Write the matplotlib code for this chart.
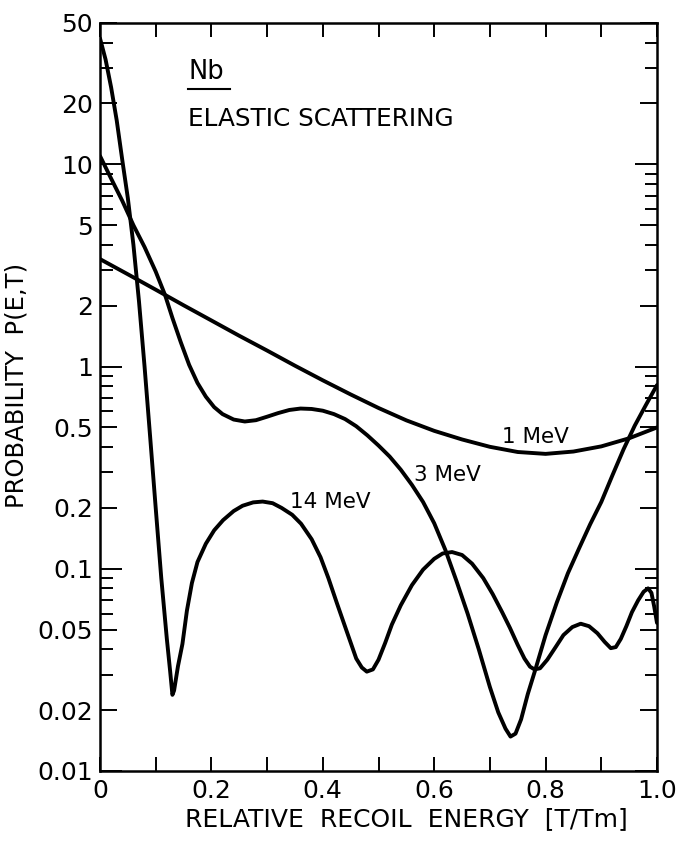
import matplotlib
matplotlib.use("Agg")
import matplotlib.pyplot as plt

# ---------------- data ----------------
x_1mev = [0.00, 0.05, 0.10, 0.15, 0.20, 0.25, 0.30, 0.35, 0.40, 0.45,
          0.50, 0.55, 0.60, 0.65, 0.70, 0.75, 0.80, 0.85, 0.90, 0.95, 1.00]
y_1mev = [3.40, 2.86, 2.40, 2.01, 1.69, 1.42, 1.20, 1.01, 0.855, 0.728,
          0.624, 0.542, 0.481, 0.436, 0.401, 0.378, 0.370, 0.380, 0.403, 0.442, 0.500]

x_3mev = [0.000, 0.020, 0.040, 0.060, 0.080, 0.100, 0.117, 0.130, 0.145, 0.160,
          0.175, 0.190, 0.205, 0.220, 0.240, 0.260, 0.280, 0.300, 0.320, 0.340,
          0.360, 0.380, 0.400, 0.420, 0.440, 0.460, 0.480, 0.500, 0.520, 0.540,
          0.560, 0.580, 0.600, 0.620, 0.640, 0.660, 0.680, 0.700, 0.715, 0.728,
          0.737, 0.746, 0.756, 0.768, 0.782, 0.800, 0.820, 0.840, 0.860, 0.880,
          0.900, 0.920, 0.940, 0.960, 0.980, 1.000]
y_3mev = [11.0, 8.5, 6.6, 5.0, 3.9, 2.95, 2.25, 1.74, 1.32, 1.02,
          0.83, 0.71, 0.63, 0.582, 0.547, 0.535, 0.543, 0.565, 0.589, 0.610,
          0.620, 0.617, 0.605, 0.582, 0.550, 0.507, 0.457, 0.407, 0.359, 0.309,
          0.260, 0.214, 0.168, 0.124, 0.087, 0.060, 0.040, 0.026, 0.0195, 0.0162,
          0.0148, 0.0153, 0.018, 0.024, 0.032, 0.047, 0.068, 0.095, 0.126, 0.166,
          0.214, 0.290, 0.390, 0.510, 0.645, 0.810]

x_14mev = [0.000, 0.010, 0.020, 0.030, 0.040, 0.050, 0.060, 0.070, 0.080, 0.090,
           0.100, 0.110, 0.120, 0.126, 0.130, 0.133, 0.140, 0.148, 0.156, 0.165,
           0.175, 0.190, 0.205, 0.221, 0.240, 0.256, 0.275, 0.292, 0.310, 0.326,
           0.345, 0.361, 0.380, 0.396, 0.410, 0.425, 0.443, 0.460, 0.470, 0.479,
           0.490, 0.500, 0.512, 0.524, 0.540, 0.560, 0.580, 0.600, 0.615, 0.632,
           0.650, 0.668, 0.688, 0.705, 0.722, 0.736, 0.750, 0.762, 0.772, 0.780,
           0.790, 0.803, 0.818, 0.832, 0.848, 0.863, 0.878, 0.893, 0.906, 0.917,
           0.926, 0.935, 0.945, 0.955, 0.966, 0.976, 0.984, 0.990, 0.995, 1.000]
y_14mev = [42.0, 33.0, 24.0, 16.5, 10.5, 6.8, 4.0, 2.1, 1.0, 0.45,
           0.20, 0.090, 0.045, 0.031, 0.0238, 0.025, 0.033, 0.0425, 0.062, 0.085,
           0.108, 0.133, 0.155, 0.174, 0.193, 0.205, 0.213, 0.215, 0.211, 0.200,
           0.185, 0.167, 0.140, 0.114, 0.090, 0.068, 0.049, 0.036, 0.0325, 0.031,
           0.0318, 0.0355, 0.043, 0.053, 0.066, 0.083, 0.099, 0.112, 0.119, 0.121,
           0.117, 0.106, 0.090, 0.075, 0.061, 0.051, 0.042, 0.036, 0.0328, 0.0318,
           0.0322, 0.0355, 0.041, 0.047, 0.0515, 0.0535, 0.052, 0.048, 0.0435, 0.0405,
           0.041, 0.045, 0.052, 0.061, 0.0697, 0.077, 0.080, 0.076, 0.065, 0.054]

series_labels = ["1 MeV", "3 MeV", "14 MeV"]
label_pos = [(0.782, 0.45), (0.624, 0.292), (0.414, 0.213)]

xticks = [0.0, 0.1, 0.2, 0.3, 0.4, 0.5, 0.6, 0.7, 0.8, 0.9, 1.0]
xticklabels = ["0", "", "0.2", "", "0.4", "", "0.6", "", "0.8", "", "1.0"]
yticks = [0.01, 0.02, 0.05, 0.1, 0.2, 0.5, 1, 2, 5, 10, 20, 50]
yticklabels = ["0.01", "0.02", "0.05", "0.1", "0.2", "0.5", "1", "2", "5", "10", "20", "50"]
decade_ticks = [0.01, 0.1, 1, 10]
yminor = [0.03, 0.04, 0.06, 0.07, 0.08, 0.09,
          0.3, 0.4, 0.6, 0.7, 0.8, 0.9,
          3, 4, 6, 7, 8, 9,
          30, 40]

# ---------------- figure ----------------
plt.rcParams['font.family'] = ['DejaVu Sans']
fig = plt.figure(figsize=(6.77, 8.43), dpi=100)
ax = fig.add_axes([100 / 677, 72 / 843, 557 / 677, 748 / 843])

lw = 2.8
for xs, ys in [(x_1mev, y_1mev), (x_3mev, y_3mev), (x_14mev, y_14mev)]:
    ax.plot(xs, ys, color='black', lw=lw, solid_joinstyle='round',
            solid_capstyle='round', clip_on=True)

ax.set_yscale('log')
ax.set_xlim(0, 1)
ax.set_ylim(0.01, 50)

ax.set_xticks(xticks)
ax.set_xticklabels(xticklabels)
ax.xaxis.set_minor_locator(matplotlib.ticker.NullLocator())
ax.set_yticks(yticks)
ax.set_yticklabels(yticklabels)
ax.set_yticks(yminor, minor=True)
ax.set_yticklabels([], minor=True)

for sp in ax.spines.values():
    sp.set_linewidth(1.8)

ax.tick_params(axis='both', which='both', direction='in', top=True, right=True,
               labelsize=18, width=1.4, colors='black')
ax.tick_params(axis='x', which='major', length=10, pad=6)
ax.tick_params(axis='y', which='major', length=12, pad=5)
ax.tick_params(axis='y', which='minor', length=9)

for t, v in zip(ax.yaxis.get_major_ticks(), yticks):
    if v in decade_ticks:
        t.tick1line.set_markersize(16)
        t.tick2line.set_markersize(16)

ax.set_xlabel("RELATIVE  RECOIL  ENERGY  [T/Tm]", fontsize=18)
ax.xaxis.set_label_coords(0.55, -0.048)
ax.set_ylabel("PROBABILITY  P(E,T)", fontsize=17.5)
ax.yaxis.set_label_coords(-0.128, 0.516)

for lab, (lx, ly) in zip(series_labels, label_pos):
    ax.text(lx, ly, lab, fontsize=15.5, ha='center', va='center')

ax.text(0.158, 0.934, "Nb", fontsize=18.5, ha='left', va='center', transform=ax.transAxes)
ax.plot([0.158, 0.234], [0.912, 0.912], color='black', lw=1.5, transform=ax.transAxes)
ax.text(0.158, 0.872, "ELASTIC SCATTERING", fontsize=17.8, ha='left', va='center',
        transform=ax.transAxes)

fig.savefig("out.png", dpi=100)
